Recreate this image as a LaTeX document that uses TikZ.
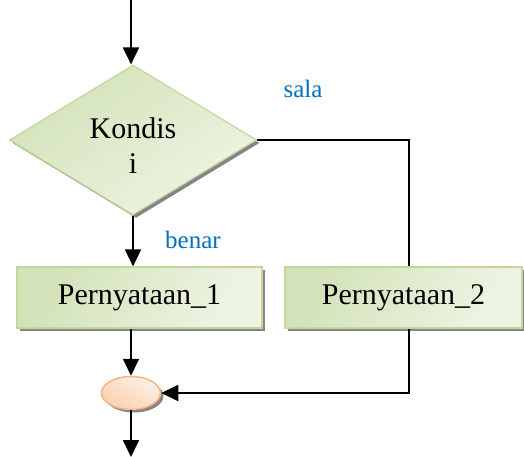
\documentclass[tikz,border=0pt]{standalone}
\usepackage{fontspec}
\setmainfont{Liberation Serif}
\usetikzlibrary{shapes.geometric,arrows.meta,shadows}

\definecolor{leafDark}{HTML}{D3E2B8}
\definecolor{leafLight}{HTML}{EEF4E4}
\definecolor{leafEdge}{HTML}{C3D69B}
\definecolor{peachDark}{HTML}{FBD0AE}
\definecolor{peachLight}{HTML}{FDF0E6}
\definecolor{peachEdge}{HTML}{F7B283}
\definecolor{labelBlue}{HTML}{0070C0}
\definecolor{shadowGrey}{HTML}{858585}

\tikzset{
  flowshadow/.style={general shadow={fill=shadowGrey, shadow xshift=3pt, shadow yshift=-3pt}},
  decision/.style={diamond, draw=leafEdge, line width=1.2pt, inner sep=0pt,
    minimum width=247pt, minimum height=150pt, aspect=1.65,
    top color=leafDark, bottom color=leafLight, shading angle=35, flowshadow},
  process/.style={rectangle, draw=leafEdge, line width=1.2pt, inner sep=0pt,
    minimum height=61pt, left color=leafDark, right color=leafLight,
    shading angle=60, flowshadow, font=\fontsize{30}{35}\selectfont},
  connector/.style={ellipse, draw=peachEdge, line width=1.5pt, inner sep=0pt,
    minimum width=59pt, minimum height=33pt,
    top color=peachDark, bottom color=peachLight, shading angle=150, flowshadow},
  flow/.style={line width=1.8pt, draw=black},
  flowarrow/.style={flow, -{Triangle[length=17pt, width=16pt]}},
  branchlabel/.style={text=labelBlue, font=\fontsize{25}{30}\selectfont, inner sep=0pt}
}

\begin{document}
\begin{tikzpicture}[x=1pt, y=-1pt]
  \useasboundingbox (0,0) rectangle (524,457);

  % shapes
  \node[decision] (cond) at (133,140) {};
  \node[align=center, font=\fontsize{30}{35}\selectfont, inner sep=0pt] (condText) at (133,146) {Kondis\\i};
  \node[process, minimum width=245pt] (stmtA) at (139.5,297.5) {Pernyataan\_1};
  \node[process, minimum width=237pt] (stmtB) at (403.5,297.5) {Pernyataan\_2};
  \node[connector] (join) at (131,393) {};

  % helper points for the free ends and the right-hand branch
  \coordinate (entry) at (131,0);
  \coordinate (exit) at (131,457);
  \coordinate (falseRail) at (409,0);

  % connectors
  \draw[flowarrow] (entry) -- (entry |- cond.north);
  \draw[flowarrow] (cond.south) -- (cond.south |- stmtA.north);
  \draw[flow] (cond.east) -| (falseRail |- stmtB.north);
  \draw[flowarrow] (join.north |- stmtA.south) -- (join.north);
  \draw[flowarrow] (falseRail |- stmtB.south) |- (join.east);
  \draw[flowarrow] (join.south) -- (exit);

  % branch labels
  \node[branchlabel, anchor=base] (falseLabel) at (303,98) {sala};
  \node[branchlabel, anchor=base] (trueLabel) at (193,248) {benar};
\end{tikzpicture}
\end{document}
